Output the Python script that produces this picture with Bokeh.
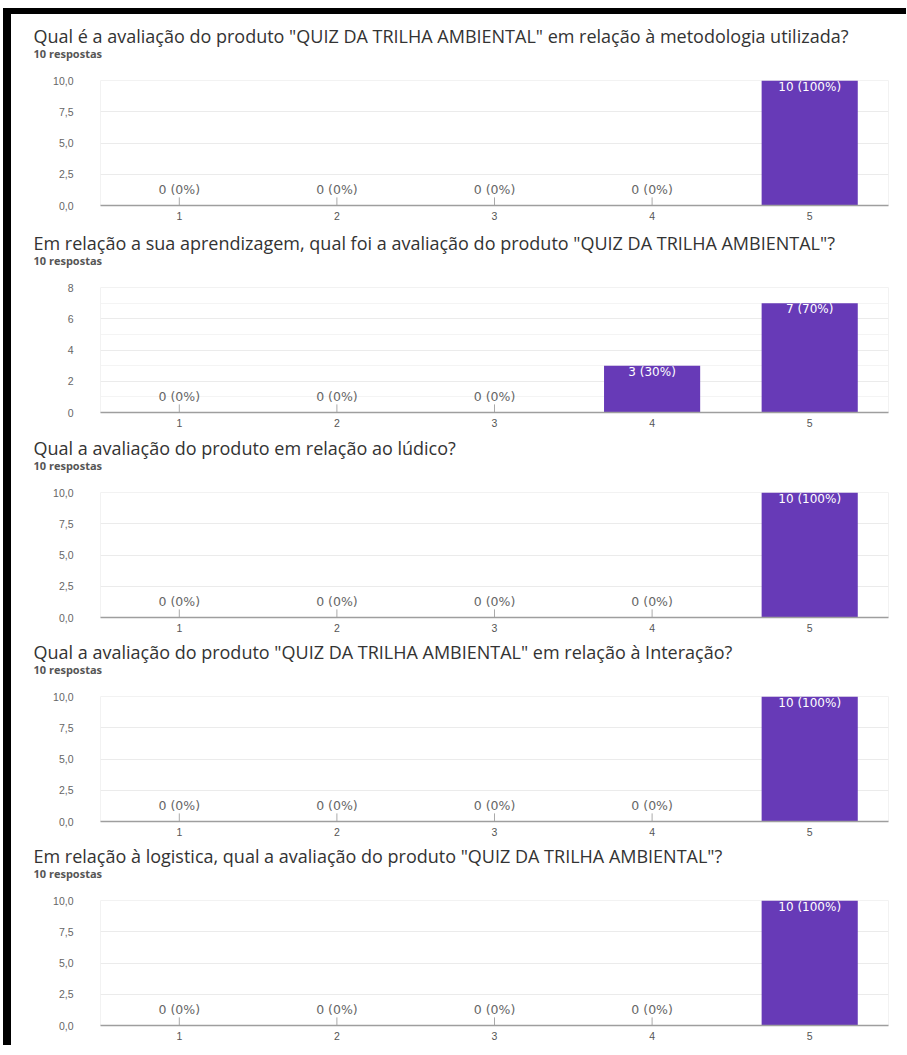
from bokeh.plotting import figure
from bokeh.models import ColumnDataSource, FactorRange, Range1d, FixedTicker, Title, Div
from bokeh.layouts import column, row
from bokeh.core.properties import value
from bokeh.embed import file_html
from bokeh.resources import INLINE

categories = ["1", "2", "3", "4", "5"]
n_respostas = 10

titles = [
    "Qual é a avaliação do produto \"QUIZ DA TRILHA AMBIENTAL\" em relação à metodologia utilizada?",
    "Em relação a sua aprendizagem, qual foi a avaliação do produto \"QUIZ DA TRILHA AMBIENTAL\"?",
    "Qual a avaliação do produto em relação ao lúdico?",
    "Qual a avaliação do produto \"QUIZ DA TRILHA AMBIENTAL\" em relação à Interação?",
    "Em relação à logistica, qual a avaliação do produto \"QUIZ DA TRILHA AMBIENTAL\"?",
]

counts_metodologia = [0, 0, 0, 0, 10]
counts_aprendizagem = [0, 0, 0, 3, 7]
counts_ludico = [0, 0, 0, 0, 10]
counts_interacao = [0, 0, 0, 0, 10]
counts_logistica = [0, 0, 0, 0, 10]

ticks_10 = [0, 2.5, 5, 7.5, 10]
tick_labels_10 = ["0,0", "2,5", "5,0", "7,5", "10,0"]
ticks_8 = [0, 2, 4, 6, 8]
minor_ticks_8 = [1, 3, 5, 7]
tick_labels_8 = ["0", "2", "4", "6", "8"]

BAR = "#673ab7"
FW = 882

def make_chart(title, counts, ticks, tick_labels, minor, top, bottom):
    ymax = ticks[-1]
    p = figure(x_range=FactorRange(*categories), y_range=Range1d(0, ymax),
               width=FW, frame_height=125, output_backend="svg", toolbar_location=None,
               title=None, min_border_left=89, min_border_right=5,
               min_border_top=top, min_border_bottom=bottom)
    p.outline_line_color = "#f2f2f2"
    p.xgrid.grid_line_color = None
    p.ygrid.grid_line_color = "#ebebeb"
    if minor:
        p.ygrid.minor_grid_line_color = "#f4f4f4"
    p.yaxis.ticker = FixedTicker(ticks=ticks, minor_ticks=minor)
    p.yaxis.major_label_overrides = {t: l for t, l in zip(ticks, tick_labels)}
    p.yaxis.axis_line_color = None
    p.yaxis.major_tick_line_color = None
    p.yaxis.minor_tick_line_color = None
    p.yaxis.major_label_standoff = 21
    p.yaxis.major_label_text_font = "Liberation Sans"
    p.yaxis.major_label_text_font_size = "10.5px"
    p.yaxis.major_label_text_color = "#666666"
    p.xaxis.axis_line_color = "#9e9e9e"
    p.xaxis.axis_line_width = 1.5
    p.xaxis.major_tick_line_color = None
    p.xaxis.minor_tick_line_color = None
    p.xaxis.major_label_standoff = 0
    p.xaxis.major_label_text_font = "Liberation Sans"
    p.xaxis.major_label_text_font_size = "10.5px"
    p.xaxis.major_label_text_color = "#555555"

    src = ColumnDataSource(dict(x=categories, top=counts))
    p.vbar(x="x", top="top", width=0.61, source=src, fill_color=BAR, line_color=None)

    pct = [round(100 * c / n_respostas) for c in counts]
    labels = [f"{c} ({q}%)" for c, q in zip(counts, pct)]
    nz = [i for i, c in enumerate(counts) if c > 0]
    zz = [i for i, c in enumerate(counts) if c == 0]
    src_nz = ColumnDataSource(dict(x=[categories[i] for i in nz], y=[counts[i] for i in nz],
                                   t=[labels[i] for i in nz]))
    src_z = ColumnDataSource(dict(x=[categories[i] for i in zz], y=[counts[i] for i in zz],
                                  y1=[counts[i] + 0.065 * ymax for i in zz],
                                  t=[labels[i] for i in zz]))
    p.text(x="x", y="y", text="t", source=src_nz, text_color="white",
           text_align="center", text_baseline="top", y_offset=-1,
           text_font=value("DejaVu Sans"), text_font_size="12px")
    p.segment(x0="x", y0="y", x1="x", y1="y1", source=src_z, line_color="#aaaaaa", line_width=1)
    p.text(x="x", y="y", text="t", source=src_z, text_color="#666666",
           text_align="center", text_baseline="bottom", y_offset=-9,
           text_font=value("DejaVu Sans"), text_font_size="12.5px")

    spacer = Title(text=" ", align="left", standoff=17, text_font_size="1px")
    sub = Title(text=f"{n_respostas} respostas", align="left", offset=-67, standoff=0,
                text_font="Open Sans", text_font_size="11px", text_font_style="bold",
                text_color="#555555")
    main = Title(text=title, align="left", offset=-67, standoff=-9,
                 text_font="Open Sans", text_font_size="18px", text_font_style="normal",
                 text_color="#333333")
    p.add_layout(spacer, "above")
    p.add_layout(sub, "above")
    p.add_layout(main, "above")
    return p

p1 = make_chart(titles[0], counts_metodologia, ticks_10, tick_labels_10, [], 66, 22)
p2 = make_chart(titles[1], counts_aprendizagem, ticks_8, tick_labels_8, minor_ticks_8, 60, 20)
p3 = make_chart(titles[2], counts_ludico, ticks_10, tick_labels_10, [], 60, 20)
p4 = make_chart(titles[3], counts_interacao, ticks_10, tick_labels_10, [], 59, 20)
p5 = make_chart(titles[4], counts_logistica, ticks_10, tick_labels_10, [], 59, 20)

top_band = Div(width=FW + 13, height=6, margin=(8, 0, 0, 0),
               styles={"background-color": "black"})
left_bar = Div(width=8, height=1037, margin=(8, 0, 0, 3),
               styles={"background-color": "black"})
layout = row(left_bar, column(top_band, p1, p2, p3, p4, p5))

open("out.html", "w").write(file_html(layout, INLINE))
